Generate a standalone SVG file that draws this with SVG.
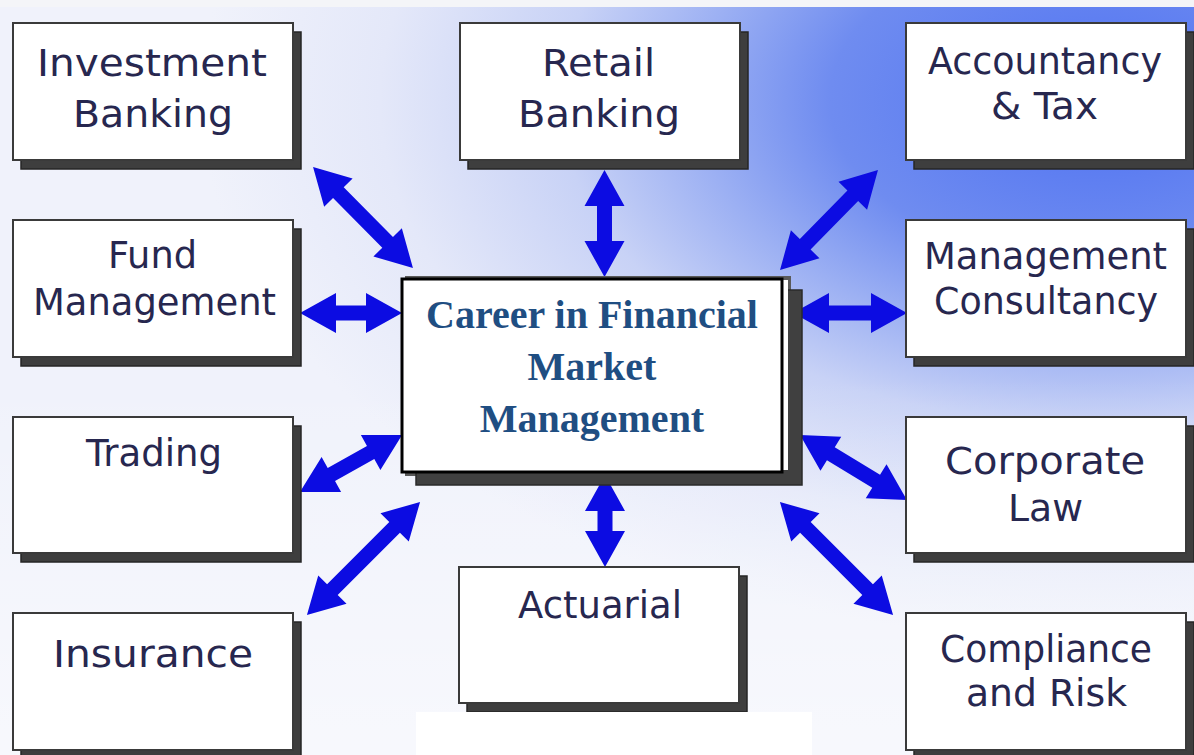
<svg xmlns="http://www.w3.org/2000/svg" width="1194" height="755" viewBox="0 0 1194 755">
<defs>
<radialGradient id="bg" gradientUnits="userSpaceOnUse" cx="1100" cy="100" r="900" gradientTransform="translate(1100 100) scale(1 0.6) translate(-1100 -100)">
<stop offset="0" stop-color="#4f72f2"/>
<stop offset="0.3" stop-color="#6f8cf0"/>
<stop offset="0.45" stop-color="#9cb0f3"/>
<stop offset="0.6" stop-color="#c8d2f6"/>
<stop offset="0.8" stop-color="#e4e8f9"/>
<stop offset="1" stop-color="#f0f2fb"/>
</radialGradient>
<linearGradient id="fade" x1="0" y1="0" x2="0" y2="1">
<stop offset="0.5" stop-color="#ffffff" stop-opacity="0"/>
<stop offset="1" stop-color="#ffffff" stop-opacity="0.5"/>
</linearGradient>
<style>
.shadow{fill:#3e3e3e;stroke:#262626;stroke-width:1.5}
.box{fill:#ffffff;stroke:#3a3a3a;stroke-width:2}
.lbl{font-family:"DejaVu Sans","Verdana",sans-serif;font-size:37px;fill:#27274f}
.ctr{font-family:"Liberation Serif","Times New Roman",serif;font-size:40px;font-weight:bold;fill:#1f4e82;text-anchor:middle}
.arr{fill:#0c0ce2}
</style>
</defs>
<rect x="0" y="0" width="1194" height="755" fill="#eef0fa"/>
<rect x="0" y="0" width="1194" height="755" fill="url(#bg)"/>
<rect x="0" y="0" width="1194" height="755" fill="url(#fade)"/>
<rect x="0" y="0" width="1194" height="7" fill="#f4f5f8"/>

<g id="connectors">
<path class="arr" transform="translate(363 217.5) rotate(45.3)" d="M-71 0L-35 -20L-35 -7.5L35 -7.5L35 -20L71 0L35 20L35 7.5L-35 7.5L-35 20Z"/>
<path class="arr" transform="translate(604.5 223.5) rotate(90)" d="M-53.5 0L-17.5 -20L-17.5 -7.5L17.5 -7.5L17.5 -20L53.5 0L17.5 20L17.5 7.5L-17.5 7.5L-17.5 20Z"/>
<path class="arr" transform="translate(829 220) rotate(-45.6)" d="M-70 0L-34 -20L-34 -7.5L34 -7.5L34 -20L70 0L34 20L34 7.5L-34 7.5L-34 20Z"/>
<path class="arr" transform="translate(351 313)" d="M-51 0L-15 -20L-15 -7.5L15 -7.5L15 -20L51 0L15 20L15 7.5L-15 7.5L-15 20Z"/>
<path class="arr" transform="translate(850 313)" d="M-57 0L-21 -20L-21 -7.5L21 -7.5L21 -20L57 0L21 20L21 7.5L-21 7.5L-21 20Z"/>
<path class="arr" transform="translate(351 463.5) rotate(-29.2)" d="M-58.5 0L-22.5 -20L-22.5 -7.5L22.5 -7.5L22.5 -20L58.5 0L22.5 20L22.5 7.5L-22.5 7.5L-22.5 20Z"/>
<path class="arr" transform="translate(363.5 558.5) rotate(-45)" d="M-80 0L-44 -20L-44 -7.5L44 -7.5L44 -20L80 0L44 20L44 7.5L-44 7.5L-44 20Z"/>
<path class="arr" transform="translate(605 521) rotate(90)" d="M-46 0L-10 -20L-10 -7.5L10 -7.5L10 -20L46 0L10 20L10 7.5L-10 7.5L-10 20Z"/>
<path class="arr" transform="translate(853.5 467.5) rotate(31.3)" d="M-62.5 0L-26.5 -20L-26.5 -7.5L26.5 -7.5L26.5 -20L62.5 0L26.5 20L26.5 7.5L-26.5 7.5L-26.5 20Z"/>
<path class="arr" transform="translate(836.5 558.5) rotate(45)" d="M-80 0L-44 -20L-44 -7.5L44 -7.5L44 -20L80 0L44 20L44 7.5L-44 7.5L-44 20Z"/>
</g>

<g id="investment-banking">
<rect class="shadow" x="21" y="32" width="280" height="137"/>
<rect class="box" x="13" y="23" width="280" height="137"/>
<text class="lbl" x="37" y="76" textLength="230" lengthAdjust="spacingAndGlyphs">Investment</text>
<text class="lbl" x="73" y="127" textLength="160" lengthAdjust="spacingAndGlyphs">Banking</text>
</g>

<g id="retail-banking">
<rect class="shadow" x="468" y="32" width="280" height="137"/>
<rect class="box" x="460" y="23" width="280" height="137"/>
<text class="lbl" x="542" y="76" textLength="113" lengthAdjust="spacingAndGlyphs">Retail</text>
<text class="lbl" x="518" y="127" textLength="162" lengthAdjust="spacingAndGlyphs">Banking</text>
</g>

<g id="accountancy-tax">
<rect class="shadow" x="914" y="32" width="280" height="137"/>
<rect class="box" x="906" y="23" width="280" height="137"/>
<text class="lbl" x="928" y="74" textLength="234" lengthAdjust="spacingAndGlyphs">Accountancy</text>
<text class="lbl" x="991" y="119" textLength="107" lengthAdjust="spacingAndGlyphs">&amp; Tax</text>
</g>

<g id="fund-management">
<rect class="shadow" x="21" y="229" width="280" height="137"/>
<rect class="box" x="13" y="220" width="280" height="137"/>
<text class="lbl" x="108" y="268" textLength="89" lengthAdjust="spacingAndGlyphs">Fund</text>
<text class="lbl" x="33" y="315" textLength="243" lengthAdjust="spacingAndGlyphs">Management</text>
</g>

<g id="management-consultancy">
<rect class="shadow" x="914" y="229" width="280" height="137"/>
<rect class="box" x="906" y="220" width="280" height="137"/>
<text class="lbl" x="924" y="269" textLength="243" lengthAdjust="spacingAndGlyphs">Management</text>
<text class="lbl" x="934" y="314" textLength="224" lengthAdjust="spacingAndGlyphs">Consultancy</text>
</g>

<g id="trading">
<rect class="shadow" x="21" y="426" width="280" height="136"/>
<rect class="box" x="13" y="417" width="280" height="136"/>
<text class="lbl" x="86" y="466" textLength="136" lengthAdjust="spacingAndGlyphs">Trading</text>
</g>

<g id="corporate-law">
<rect class="shadow" x="914" y="426" width="280" height="136"/>
<rect class="box" x="906" y="417" width="280" height="136"/>
<text class="lbl" x="945" y="474" textLength="200" lengthAdjust="spacingAndGlyphs">Corporate</text>
<text class="lbl" x="1008" y="521" textLength="75" lengthAdjust="spacingAndGlyphs">Law</text>
</g>

<g id="insurance">
<rect class="shadow" x="21" y="622" width="280" height="137"/>
<rect class="box" x="13" y="613" width="280" height="137"/>
<text class="lbl" x="53" y="667" textLength="200" lengthAdjust="spacingAndGlyphs">Insurance</text>
</g>

<g id="compliance-risk">
<rect class="shadow" x="914" y="622" width="280" height="137"/>
<rect class="box" x="906" y="613" width="280" height="137"/>
<text class="lbl" x="940" y="662" textLength="212" lengthAdjust="spacingAndGlyphs">Compliance</text>
<text class="lbl" x="966" y="706" textLength="161" lengthAdjust="spacingAndGlyphs">and Risk</text>
</g>

<g id="actuarial">
<rect class="shadow" x="467" y="576" width="280" height="136"/>
<rect class="box" x="459" y="567" width="280" height="136"/>
<text class="lbl" x="518" y="618" textLength="164" lengthAdjust="spacingAndGlyphs">Actuarial</text>
</g>

<rect x="416" y="712" width="396" height="43" fill="#ffffff"/>

<g id="center">
<rect x="405" y="276" width="386" height="200" fill="#5a5a5a"/>
<rect x="416" y="290" width="386" height="195" fill="#404040" stroke="#2a2a2a" stroke-width="1.5"/>
<rect x="782" y="280" width="6" height="190" fill="#ffffff"/>
<rect x="402" y="279" width="380" height="193" fill="#ffffff" stroke="#000000" stroke-width="3"/>
<text class="ctr" x="592" y="328">Career in Financial</text>
<text class="ctr" x="592" y="380">Market</text>
<text class="ctr" x="592" y="432">Management</text>
</g>
</svg>
